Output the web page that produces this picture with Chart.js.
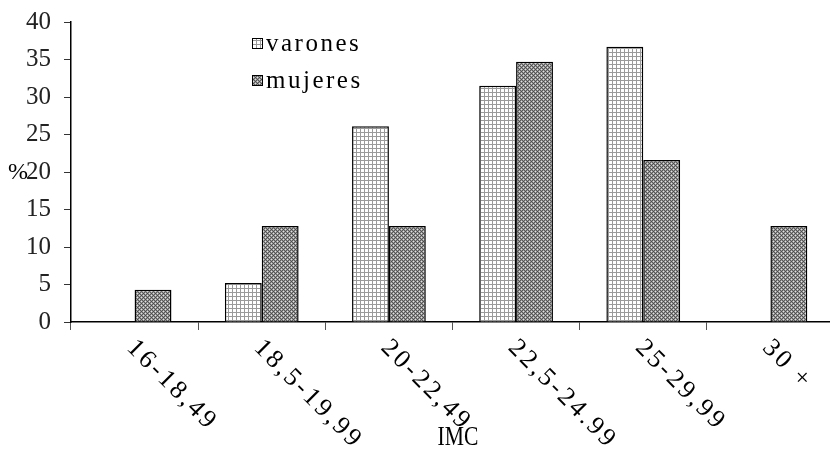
<!DOCTYPE html>
<html>
<head>
<meta charset="utf-8">
<script src="https://cdn.jsdelivr.net/npm/chart.js@4.4.1/dist/chart.umd.min.js"></script>
<style>
  html, body { margin: 0; padding: 0; background: #fff; overflow: hidden; }
</style>
</head>
<body>
<canvas id="grafico" width="834" height="450"></canvas>
<script>
// datos
const categorias = ["16-18,49", "18,5-19,99", "20-22,49", "22,5-24.99", "25-29,99", "30 +"];
const varones = [0, 5.2, 26.1, 31.5, 36.7, 0];
const mujeres = [4.3, 12.8, 12.8, 34.7, 21.6, 12.8];
const ticksY = [0, 5, 10, 15, 20, 25, 30, 35, 40];

// tramas de relleno
function tramaVarones() {
  const c = document.createElement("canvas");
  c.width = 4; c.height = 4;
  const g = c.getContext("2d");
  g.fillStyle = "#fff";
  g.fillRect(0, 0, 4, 4);
  g.fillStyle = "#9a9a9a";
  g.fillRect(0, 0, 4, 1);
  g.fillRect(0, 0, 1, 4);
  return g.createPattern(c, "repeat");
}

function tramaMujeres() {
  const c = document.createElement("canvas");
  c.width = 4; c.height = 4;
  const g = c.getContext("2d");
  // checker gris con puntos claros
  const px = [
    ["#5a5a5a", "#9a9a9a", "#5a5a5a", "#9a9a9a"],
    ["#9a9a9a", "#e0e0e0", "#9a9a9a", "#4a4a4a"],
    ["#5a5a5a", "#9a9a9a", "#5a5a5a", "#9a9a9a"],
    ["#9a9a9a", "#4a4a4a", "#9a9a9a", "#e0e0e0"]
  ];
  for (let j = 0; j < 4; j++) {
    for (let i = 0; i < 4; i++) {
      g.fillStyle = px[j][i];
      g.fillRect(i, j, 1, 1);
    }
  }
  return g.createPattern(c, "repeat");
}

const ctx = document.getElementById("grafico");
const fuente = "'Liberation Serif', 'DejaVu Serif', serif";

// etiquetas giradas, leyenda, "%" e "IMC"
const textos = {
  id: "textos",
  afterDraw(chart) {
    const c = chart.ctx;
    const x = chart.scales.x;
    const area = chart.chartArea;
    c.save();
    c.fillStyle = "#000";
    c.font = "26px " + fuente;
    c.letterSpacing = "3px";
    categorias.forEach((lab, i) => {
      const px = x.getPixelForTick(i);
      c.save();
      c.translate(px - 4, area.bottom + 22);
      c.rotate(Math.PI / 4);
      c.textAlign = "left";
      c.textBaseline = "middle";
      c.fillText(lab, 0, 0);
      c.restore();
    });

    // leyenda
    const sets = chart.data.datasets;
    c.font = "25px " + fuente;
    c.letterSpacing = "2.5px";
    c.textAlign = "left";
    c.textBaseline = "middle";
    sets.forEach((ds, i) => {
      const ly = 44 + i * 37;
      c.fillStyle = ds.backgroundColor;
      c.fillRect(252, ly - 6, 11, 11);
      c.strokeStyle = "#000";
      c.lineWidth = 1;
      c.strokeRect(252.5, ly - 5.5, 10, 10);
      c.fillStyle = "#000";
      c.fillText(ds.label, 266, ly);
    });

    c.letterSpacing = "0px";
    c.font = "24px " + fuente;
    c.textAlign = "left";
    c.fillText("%", 8, 173);
    c.textAlign = "center";
    c.font = "27px " + fuente;
    c.save();
    c.translate(458, 438);
    c.scale(0.8, 1);
    c.fillText("IMC", 0, 0);
    c.restore();
    c.restore();
  }
};

new Chart(ctx, {
  type: "bar",
  data: {
    labels: categorias,
    datasets: [
      {
        label: "varones",
        data: varones,
        backgroundColor: tramaVarones(),
        borderColor: "#000",
        borderWidth: 1.5,
        barPercentage: 1,
        categoryPercentage: 0.58
      },
      {
        label: "mujeres",
        data: mujeres,
        backgroundColor: tramaMujeres(),
        borderColor: "#000",
        borderWidth: 1.5,
        barPercentage: 1,
        categoryPercentage: 0.58
      }
    ]
  },
  options: {
    responsive: false,
    animation: false,
    layout: { padding: { top: 22, right: 0, left: 0, bottom: 0 } },
    plugins: {
      legend: { display: false },
      tooltip: { enabled: false }
    },
    scales: {
      x: {
        grid: {
          offset: true,
          drawOnChartArea: false,
          drawTicks: true,
          tickLength: 8,
          color: "#555"
        },
        border: { color: "#000", width: 1.5 },
        ticks: { display: false },
        afterFit(scale) { scale.height = 128; }
      },
      y: {
        min: 0,
        max: 40,
        afterBuildTicks(scale) { scale.ticks = ticksY.map(v => ({ value: v })); },
        grid: {
          drawOnChartArea: false,
          drawTicks: true,
          tickLength: 7,
          color: "#333"
        },
        border: { color: "#000", width: 1.5 },
        ticks: {
          padding: 13,
          color: "#222",
          font: { family: fuente, size: 25 }
        },
        afterFit(scale) {
          scale.width = 71;
          scale.paddingTop = 0;
          scale.paddingBottom = 0;
        }
      }
    }
  },
  plugins: [textos]
});
</script>
</body>
</html>
